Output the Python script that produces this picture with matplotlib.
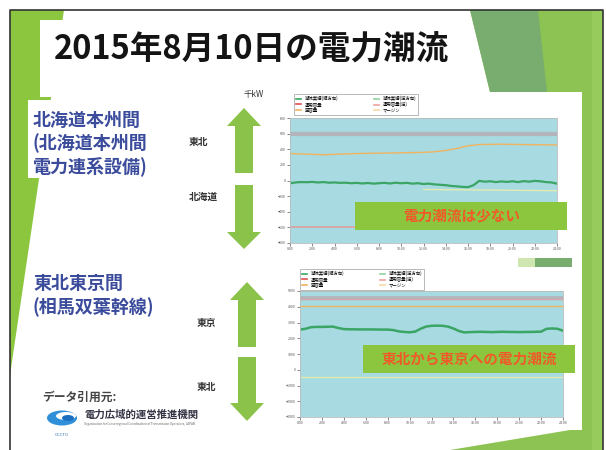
import numpy as np
import matplotlib.pyplot as plt
from matplotlib.patches import Polygon, Rectangle, Ellipse
from matplotlib.lines import Line2D

plt.rcParams['font.family'] = ['Noto Sans CJK JP', 'DejaVu Sans']

W, H = 606, 450

# --- data (千kW), half-hourly / hourly ---
t_half = np.arange(0, 24.5, 0.5)
t_hour = np.arange(0, 25, 1)

# 北海道本州間
hk_flow = [-35, -25, -20, -22, -18, -25, -20, -28, -25, -30, -28, -35, -30,
           -38, -32, -40, -35, -30, -38, -28, -35, -30, -40, -35, -45, -40,
           -50, -55, -60, -70, -75, -82, -85, -60, -5, -15, -10, -20, -12,
           -18, -10, -20, -8, -15, -5, -10, -20, -25, -40]
hk_free = [345, 340, 335, 330, 335, 340, 345, 348, 350, 352, 355, 357, 360,
           368, 385, 410, 445, 460, 462, 465, 462, 460, 458, 457, 455]
hk_margin_t = [12, 14, 16, 18, 20, 22, 24]
hk_margin = [-115, -118, -120, -122, -125, -128, -130]
hk_cap_fwd = 600
hk_cap_rev = -600

# 東北東京間
tt_flow = [2550, 2600, 2700, 2720, 2720, 2730, 2740, 2650, 2580, 2570, 2565,
           2560, 2560, 2560, 2555, 2550, 2550, 2520, 2440, 2400, 2380, 2420,
           2600, 2740, 2790, 2800, 2790, 2740, 2620, 2460, 2370, 2390, 2400,
           2410, 2400, 2390, 2400, 2410, 2400, 2400, 2390, 2400, 2400, 2410,
           2420, 2600, 2620, 2600, 2480]
tt_cap_fwd = 4600
tt_cap_red = 4520
tt_free = 4050
tt_margin = -490

hk_yticks = np.arange(-800, 801, 200)
tt_yticks = np.arange(-3000, 5001, 1000)
xticks = np.arange(0, 25, 2)

legend_labels = ['潮流実績(順方向)', '運用容量', '空容量',
                 '潮流実績(逆方向)', '運用容量(逆)', 'マージン']

C_LEFT = '#8cc63f'
C_LIGHT = '#8dc352'
C_DARK = '#78ad6f'
C_ARROW = '#8bc34a'
C_BLUE = '#3c4c9c'
C_PLOT = '#a7dae1'
C_FLOW = '#3aa564'
C_ORANGE = '#f2b35e'
C_GREY = '#b4b4bc'
C_ROSE = '#d9a3a3'
C_FAINT = '#e3ecb0'
C_RED = '#f05a28'


def rect(x0, y0, x1, y1):
    return [x0 / W, 1 - y1 / H, (x1 - x0) / W, (y1 - y0) / H]


fig = plt.figure(figsize=(W / 100, H / 100), dpi=100)
fig.patch.set_facecolor('white')

bg = fig.add_axes([0, 0, 1, 1], zorder=0)
bg.set_xlim(0, W)
bg.set_ylim(H, 0)
bg.axis('off')

# slide decoration
bg.add_patch(Polygon([(10, 10), (64, 10), (10, 375)], closed=True,
                     color=C_LEFT, lw=0))
bg.add_patch(Polygon([(470, 10), (603, 10), (603, 450), (450, 450),
                      (582, 428), (582, 92), (490, 92)], closed=True,
                     color=C_LIGHT, lw=0))
bg.add_patch(Rectangle((592, 10), 11, 440, color='#97cc5c', lw=0))
bg.add_patch(Polygon([(470, 10), (538, 10), (547, 92), (490, 92)],
                     closed=True, color=C_DARK, lw=0))
# white boxes
bg.add_patch(Rectangle((40, 20), 428, 77, color='white', lw=0))
bg.add_patch(Rectangle((28, 100), 142, 78, color='white', lw=0))
bg.add_patch(Rectangle((270, 92), 307, 162, color='white', lw=0))
bg.add_patch(Rectangle((278, 254), 304, 176, color='white', lw=0))
# small bar between panels
bg.add_patch(Rectangle((518, 258), 17, 9, color='#cfe6b0', lw=0))
bg.add_patch(Rectangle((535, 258), 37, 9, color=C_DARK, lw=0))
# slide frame
bg.plot([10, 10, 603, 603], [450, 10, 10, 450], color='#333333', lw=1.2)

# title
bg.text(54, 50, '2015年8月10日の電力潮流', fontsize=23.5, fontweight='bold',
        color='#141414', ha='left', va='center')

# left labels
for i, s in enumerate(['北海道本州間', '(北海道本州間', '電力連系設備)']):
    bg.text(33, 120 + i * 23.5, s, fontsize=13, fontweight='bold',
            color=C_BLUE, ha='left', va='center')
for i, s in enumerate(['東北東京間', '(相馬双葉幹線)']):
    bg.text(33, 283 + i * 24, s, fontsize=13, fontweight='bold',
            color=C_BLUE, ha='left', va='center')

bg.text(42, 397, 'データ引用元:', fontsize=8.5, color='#444444',
        fontweight='bold', ha='left', va='center')
bg.add_patch(Ellipse((62, 418), 30, 15, color='#2f8fd8', lw=0))
bg.add_patch(Ellipse((66, 416), 20, 8, color='white', lw=0))
bg.add_patch(Ellipse((68, 418), 12, 6, color='#1c6fc0', lw=0))
bg.text(62, 435, 'OCCTO', fontsize=3, color='#2f6fb0', ha='center',
        va='center')
bg.text(84, 415, '電力広域的運営推進機関', fontsize=7.5, color='#333344',
        fontweight='bold', ha='left', va='center')
bg.text(84, 424, 'Organization for Cross-regional Coordination of '
        'Transmission Operators, JAPAN', fontsize=2.2, color='#666666',
        ha='left', va='center')

# direction arrows
def double_arrow(xc, tip_top, base_top, shaft_end, shaft_start, base_bot,
                 tip_bot, hw=17, sw=9):
    bg.add_patch(Polygon([(xc, tip_top), (xc + hw, base_top),
                          (xc + sw, base_top), (xc + sw, shaft_end),
                          (xc - sw, shaft_end), (xc - sw, base_top),
                          (xc - hw, base_top)], closed=True, color=C_ARROW,
                         lw=0))
    bg.add_patch(Polygon([(xc, tip_bot), (xc + hw, base_bot),
                          (xc + sw, base_bot), (xc + sw, shaft_start),
                          (xc - sw, shaft_start), (xc - sw, base_bot),
                          (xc - hw, base_bot)], closed=True, color=C_ARROW,
                         lw=0))


double_arrow(244, 108, 126, 173, 185, 232, 249)
double_arrow(247, 282, 300, 347, 357, 403, 421)

bg.text(198, 142, '東北', fontsize=7, color='#333333', ha='center',
        va='center', fontweight='bold')
bg.text(203, 197, '北海道', fontsize=7, color='#333333', ha='center',
        va='center', fontweight='bold')
bg.text(206, 323, '東京', fontsize=7, color='#333333', ha='center',
        va='center', fontweight='bold')
bg.text(206, 387, '東北', fontsize=7, color='#333333', ha='center',
        va='center', fontweight='bold')
bg.text(254, 95, '千kW', fontsize=6, color='#333333', ha='center',
        va='center')


def style_chart(ax, yticks):
    ax.set_facecolor(C_PLOT)
    ax.set_xlim(0, 24)
    ax.set_ylim(yticks[0], yticks[-1])
    ax.set_yticks(yticks)
    ax.set_xticks(xticks)
    ax.set_xticklabels(['%d:00' % h for h in xticks])
    ax.tick_params(labelsize=2.6, length=2, width=0.5, colors='#555555',
                   pad=1)
    for s in ax.spines.values():
        s.set_color('#bbbbbb')
        s.set_linewidth(0.6)


def add_legend(ax, x0, y0):
    handles = [Line2D([], [], color=c, lw=1.2) for c in
               [C_FLOW, '#e05050', C_ORANGE, '#8fd19e', '#f0a0a0',
                '#f7d9a8']]
    leg = ax.legend(handles, legend_labels, ncol=2, fontsize=3.2,
                    loc='upper left', bbox_to_anchor=(x0 / W, 1 - y0 / H),
                    bbox_transform=fig.transFigure, frameon=True,
                    fancybox=False, handlelength=1.2, columnspacing=8,
                    labelspacing=0.15, borderpad=0.35)
    leg.get_frame().set_edgecolor('#999999')
    leg.get_frame().set_linewidth(0.6)


# 北海道本州間 chart
ax1 = fig.add_axes(rect(290, 118, 557, 243), zorder=2)
style_chart(ax1, hk_yticks)
ax1.axhline(hk_cap_fwd, color=C_GREY, lw=3)
ax1.axhline(hk_cap_rev, color=C_ROSE, lw=1.3)
ax1.plot(t_hour, hk_free, color=C_ORANGE, lw=1)
ax1.plot(hk_margin_t, hk_margin, color=C_FAINT, lw=1)
ax1.plot(t_half, hk_flow, color=C_FLOW, lw=1.6)
add_legend(ax1, 292, 92)

# 東北東京間 chart
ax2 = fig.add_axes(rect(300, 291, 563, 417), zorder=2)
style_chart(ax2, tt_yticks)
ax2.axhline(tt_cap_fwd, color=C_GREY, lw=2)
ax2.axhline(tt_cap_red, color=C_ROSE, lw=1)
ax2.axhline(tt_free, color=C_ORANGE, lw=1)
ax2.axhline(tt_margin, color=C_FAINT, lw=1)
ax2.plot(t_half, tt_flow, color=C_FLOW, lw=1.8)
add_legend(ax2, 298, 267)

# annotation boxes on top of the charts
fg = fig.add_axes([0, 0, 1, 1], zorder=5)
fg.set_xlim(0, W)
fg.set_ylim(H, 0)
fg.axis('off')
fg.add_patch(Rectangle((355, 202), 212, 28, color=C_LEFT, lw=0))
fg.text(462, 216, '電力潮流は少ない', fontsize=10.5, color=C_RED,
        fontweight='bold', ha='center', va='center')
fg.add_patch(Rectangle((363, 345), 212, 28, color=C_LEFT, lw=0))
fg.text(469, 359, '東北から東京への電力潮流', fontsize=10.5, color=C_RED,
        fontweight='bold', ha='center', va='center')

fig.savefig('out.png', dpi=100)
